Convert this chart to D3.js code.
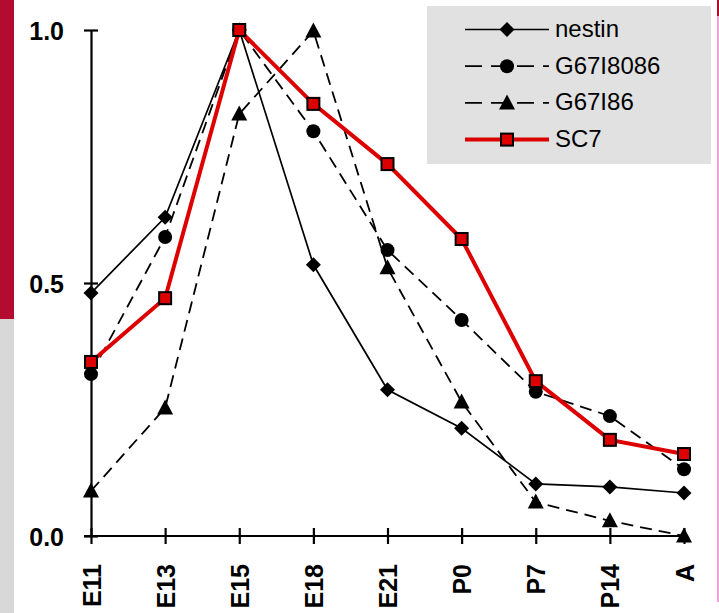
<!DOCTYPE html>
<html>
<head>
<meta charset="utf-8">
<script src="https://cdn.jsdelivr.net/npm/d3@7"></script>
<style>
  body { margin: 0; background: #fff; }
  svg { display: block; }
  .tick text { font-family: "Liberation Sans", Arial, sans-serif; font-weight: bold; }
</style>
</head>
<body>
<script>
var width = 719,
    height = 613;

// stages along the x axis
var stages = ["E11", "E13", "E15", "E18", "E21", "P0", "P7", "P14", "A"];

// relative expression
var nestin   = [0.48, 0.63, 1.0, 0.536, 0.289, 0.213, 0.103, 0.097, 0.085];
var g67i8086 = [0.32, 0.591, 1.0, 0.80, 0.565, 0.427, 0.285, 0.237, 0.132];
var g67i86   = [0.089, 0.253, 0.834, 0.998, 0.53, 0.265, 0.067, 0.03, 0.0];
var sc7      = [0.344, 0.47, 1.0, 0.854, 0.735, 0.587, 0.306, 0.19, 0.162];

var yTicks = [0, 0.5, 1.0];

var series = [
    { name: "nestin",   values: nestin,   marker: "diamond",  color: "#000", width: 1.7, dash: null },
    { name: "G67I8086", values: g67i8086, marker: "circle",   color: "#000", width: 1.8, dash: "12,7" },
    { name: "G67I86",   values: g67i86,   marker: "triangle", color: "#000", width: 1.8, dash: "12,7" },
    { name: "SC7",      values: sc7,      marker: "square",   color: "#dd0000", width: 4, dash: null }
];

var x = d3.scalePoint()
    .domain(stages)
    .range([91, 684]);

var y = d3.scaleLinear()
    .domain([0, 1])
    .range([536, 30]);

var svg = d3.select("body").append("svg")
    .attr("width", width)
    .attr("height", height);

// side strips
svg.append("rect").attr("x", 0).attr("y", 0).attr("width", 14).attr("height", 319).attr("fill", "#b30c30");
svg.append("rect").attr("x", 0).attr("y", 319).attr("width", 14).attr("height", height - 319).attr("fill", "#d8d8d8");
svg.append("rect").attr("x", 717).attr("y", 0).attr("width", 2).attr("height", 602).attr("fill", "#f2a2d4");
svg.append("rect").attr("x", 717).attr("y", 0).attr("width", 2).attr("height", 16).attr("fill", "#a8102c");

// axes
var yAxis = d3.axisLeft(y)
    .tickValues(yTicks)
    .tickFormat(d3.format(".1f"))
    .tickSizeInner(7)
    .tickSizeOuter(0)
    .tickPadding(20);

var gy = svg.append("g")
    .attr("transform", "translate(91,0)")
    .call(yAxis);
gy.select(".domain").attr("stroke-width", 2.2);
gy.selectAll(".tick line").attr("x2", 7).attr("x1", -7).attr("stroke-width", 2.2);
gy.selectAll(".tick text").attr("font-size", 25).attr("dy", "0.36em");

var xAxis = d3.axisBottom(x)
    .tickSizeInner(8)
    .tickSizeOuter(0);

var gx = svg.append("g")
    .attr("transform", "translate(0,536)")
    .call(xAxis);
gx.select(".domain").attr("d", "M84,0H685").attr("stroke-width", 2.2);
gx.selectAll(".tick line").attr("y1", -8).attr("y2", 8).attr("stroke-width", 2.2);
gx.selectAll(".tick text")
    .attr("font-size", 25)
    .attr("text-anchor", "end")
    .attr("dy", null)
    .attr("y", 0)
    .attr("transform", "translate(4,28) rotate(-90) translate(0,5)");

function drawMarker(g, type, cx, cy, color) {
    if (type === "diamond") {
        g.append("path")
            .attr("d", "M" + cx + "," + (cy - 7.5) + "L" + (cx + 7.5) + "," + cy + "L" + cx + "," + (cy + 7.5) + "L" + (cx - 7.5) + "," + cy + "Z")
            .attr("fill", "#000");
    } else if (type === "circle") {
        g.append("circle").attr("cx", cx).attr("cy", cy).attr("r", 7).attr("fill", "#000");
    } else if (type === "triangle") {
        g.append("path")
            .attr("d", "M" + cx + "," + (cy - 8.5) + "L" + (cx + 8) + "," + (cy + 6.5) + "L" + (cx - 8) + "," + (cy + 6.5) + "Z")
            .attr("fill", "#000");
    } else {
        g.append("rect")
            .attr("x", cx - 6).attr("y", cy - 6)
            .attr("width", 12).attr("height", 12)
            .attr("fill", color)
            .attr("stroke", "#000")
            .attr("stroke-width", 2);
    }
}

var line = d3.line()
    .x(function (d, i) { return x(stages[i]); })
    .y(function (d) { return y(d); });

var plot = svg.append("g");

series.forEach(function (s) {
    var g = plot.append("g");
    g.append("path")
        .datum(s.values)
        .attr("d", line)
        .attr("fill", "none")
        .attr("stroke", s.color)
        .attr("stroke-width", s.width)
        .attr("stroke-dasharray", s.dash);
    s.values.forEach(function (v, i) {
        drawMarker(g, s.marker, x(stages[i]), y(v), s.color);
    });
});

// legend
var legend = svg.append("g");
legend.append("rect")
    .attr("x", 427).attr("y", 6)
    .attr("width", 284).attr("height", 158)
    .attr("fill", "#e1e1e1");

series.forEach(function (s, i) {
    var ly = 29.5 + i * 36.7;
    var g = legend.append("g");
    g.append("line")
        .attr("x1", 465).attr("x2", 549)
        .attr("y1", ly).attr("y2", ly)
        .attr("stroke", s.color)
        .attr("stroke-width", s.width)
        .attr("stroke-dasharray", s.dash ? "17,9" : null);
    drawMarker(g, s.marker, 507, ly, s.color);
    g.append("text")
        .attr("x", 555)
        .attr("y", ly + 7.5)
        .attr("font-family", "'Liberation Sans', Arial, sans-serif")
        .attr("font-size", 24)
        .text(s.name);
});
</script>
</body>
</html>
